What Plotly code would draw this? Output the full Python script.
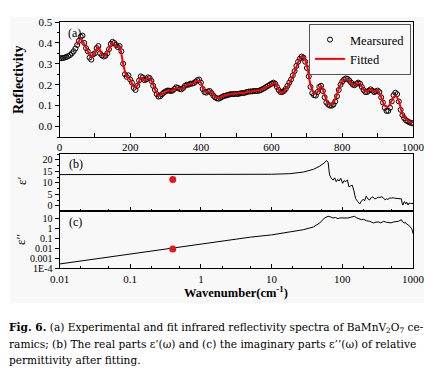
import plotly.graph_objects as go

# ---------------- data ----------------
wn_meas = list(range(0, 1001, 5))
R_meas = [
    0.327, 0.327, 0.328, 0.330, 0.333, 0.337, 0.342, 0.350, 0.360, 0.373,
    0.390, 0.410, 0.430, 0.435, 0.400, 0.375, 0.360, 0.330, 0.320, 0.345,
    0.350, 0.375, 0.385, 0.350, 0.340, 0.335, 0.338, 0.350, 0.370, 0.395,
    0.405, 0.400, 0.390, 0.380, 0.385, 0.360, 0.300, 0.250, 0.238, 0.245,
    0.225, 0.210, 0.185, 0.175, 0.195, 0.220, 0.240, 0.235, 0.222, 0.225,
    0.235, 0.232, 0.218, 0.195, 0.175, 0.155, 0.143, 0.145, 0.155, 0.162,
    0.168, 0.172, 0.172, 0.170, 0.172, 0.180, 0.188, 0.185, 0.180, 0.178,
    0.185, 0.195, 0.200, 0.200, 0.205, 0.205, 0.208, 0.215, 0.222, 0.225,
    0.210, 0.180, 0.165, 0.162, 0.168, 0.170, 0.160, 0.148, 0.140, 0.135,
    0.133, 0.137, 0.142, 0.146, 0.148, 0.150, 0.153, 0.155, 0.155, 0.156,
    0.156, 0.156, 0.158, 0.160, 0.160, 0.162, 0.165, 0.167, 0.168, 0.168,
    0.170, 0.170, 0.170, 0.172, 0.175, 0.180, 0.184, 0.190, 0.195, 0.200,
    0.205, 0.210, 0.205, 0.190, 0.175, 0.165, 0.165, 0.170, 0.180, 0.195,
    0.210, 0.225, 0.245, 0.265, 0.290, 0.310, 0.325, 0.335, 0.330, 0.310,
    0.280, 0.240, 0.190, 0.160, 0.150, 0.148, 0.165, 0.190, 0.195, 0.170,
    0.140, 0.115, 0.105, 0.100, 0.100, 0.105, 0.120, 0.145, 0.175, 0.200,
    0.215, 0.225, 0.230, 0.228, 0.220, 0.210, 0.200, 0.198, 0.205, 0.210,
    0.205, 0.190, 0.175, 0.165, 0.165, 0.172, 0.178, 0.172, 0.165, 0.168,
    0.172, 0.165, 0.140, 0.115, 0.090, 0.075, 0.075, 0.090, 0.120, 0.150,
    0.162, 0.155, 0.120, 0.080, 0.055, 0.040, 0.030, 0.025, 0.020, 0.017,
    0.015,
]

wn_fit = list(range(50, 1001, 10))
R_fit = [
    0.390, 0.420, 0.395, 0.360, 0.330, 0.355, 0.380, 0.345, 0.340, 0.370,
    0.398, 0.385, 0.378, 0.300, 0.240, 0.225, 0.190, 0.195, 0.235, 0.220,
    0.232, 0.220, 0.178, 0.146, 0.155, 0.166, 0.172, 0.172, 0.185, 0.180,
    0.185, 0.198, 0.203, 0.207, 0.220, 0.210, 0.168, 0.168, 0.162, 0.142,
    0.138, 0.145, 0.150, 0.154, 0.157, 0.158, 0.160, 0.162, 0.165, 0.168,
    0.170, 0.172, 0.176, 0.183, 0.192, 0.200, 0.208, 0.175, 0.160, 0.180,
    0.205, 0.240, 0.285, 0.325, 0.335, 0.290, 0.200, 0.160, 0.165, 0.195,
    0.150, 0.110, 0.108, 0.130, 0.180, 0.215, 0.225, 0.218, 0.200, 0.205,
    0.205, 0.178, 0.168, 0.178, 0.168, 0.172, 0.140, 0.100, 0.095, 0.125,
    0.148, 0.120, 0.060, 0.035, 0.025, 0.020,
]

wn_eps1 = [0.01, 0.1, 1, 5, 10, 18, 28, 39, 48, 55, 60, 63, 66, 70, 74, 78, 82,
           86, 90, 95, 101, 106, 112, 118, 124, 130, 138, 146, 154, 165, 177,
           186, 196, 207, 218, 230, 243, 256, 271, 287, 303, 320, 340, 360,
           376, 400, 420, 443, 470, 495, 522, 550, 580, 615, 650, 685, 700,
           722, 740, 762, 790, 815, 851, 880, 920, 948, 1000]
eps1 = [13.6, 13.6, 13.6, 13.65, 13.75, 14.0, 14.7, 15.9, 17.3, 18.6, 19.7,
        19.0, 13.5, 12.0, 11.2, 12.2, 10.5, 11.5, 10.8, 12.0, 9.8, 11.0, 10.5,
        11.3, 8.3, 8.6, 9.0, 6.5, 3.2, 1.8, 0.8, 2.0, 2.8, 2.2, 4.2, 3.0, 2.5,
        3.5, 3.9, 3.0, 3.2, 3.8, 3.6, 3.9, 3.6, 2.6, 3.0, 2.8, 3.4, 3.3, 3.5,
        3.3, 3.2, 3.2, 3.3, 3.0, 1.2, 0.3, 1.5, 1.8, 0.8, 1.5, 0.3, 1.2, 1.0,
        1.0, 1.0]

wn_eps2 = [0.01, 0.1, 1, 5, 10, 18, 28, 39, 48, 56, 63, 68, 74, 80, 87, 92, 97,
           105, 112, 120, 130, 140, 148, 160, 175, 187, 200, 218, 243, 260,
           278, 300, 327, 350, 384, 420, 451, 490, 530, 580, 622, 685, 710,
           750, 780, 810, 860, 900, 950, 980, 1000]
eps2 = [2.7e-4, 2.7e-3, 0.027, 0.13, 0.22, 0.43, 0.72, 1.35, 3.4, 10.7, 15.8,
        14.0, 10.7, 12.0, 9.1, 11.0, 10.7, 12.0, 10.0, 10.7, 12.5, 14.0, 15.8,
        11.0, 9.0, 7.2, 8.0, 5.75, 5.0, 4.0, 3.4, 4.2, 4.3, 3.5, 5.0, 4.0,
        4.0, 3.5, 4.3, 4.5, 5.0, 7.2, 4.5, 3.4, 4.0, 2.7, 2.2, 1.5, 1.0, 0.6,
        0.3]

dot_wn = [0.4]
dot_eps1 = [11.5]
dot_eps2 = [0.0085]

log_tickvals = [0.01, 0.1, 1, 10, 100, 1000]
log_ticktext = ["0.01", "0.1", "1", "10", "100", "1000"]
eps2_tickvals = [1e-4, 1e-3, 1e-2, 1e-1, 1, 10]
eps2_ticktext = ["1E-4", "0.001", "0.01", "0.1", "1", "10"]

# ---------------- figure ----------------
# the page body keeps its default 8 px margin, so the figure is made
# 16 px smaller and every position is measured from (8, 8)
OFF = 8
W, H = 435 - 2 * OFF, 380 - 2 * OFF
FONT = "Liberation Serif, Times New Roman, Times, serif"
CAPFONT = "DejaVu Serif, serif"
BG = "#f8f8f8"

def px_x(p):
    return (p - OFF) / W

def px_y(p):
    return 1 - (p - OFF) / H

xdom = [px_x(59.5), px_x(413)]

fig = go.Figure()

fig.add_trace(go.Scatter(
    x=wn_meas, y=R_meas, mode="markers", name="Mearsured",
    marker=dict(symbol="circle-open", size=5, color="black",
                line=dict(width=1, color="black")),
    xaxis="x", yaxis="y"))
fig.add_trace(go.Scatter(
    x=wn_fit, y=R_fit, mode="lines", name="Fitted",
    line=dict(color="#ff0000", width=2, shape="spline", smoothing=0.8),
    xaxis="x", yaxis="y"))

fig.add_trace(go.Scatter(
    x=wn_eps1, y=eps1, mode="lines", showlegend=False,
    line=dict(color="black", width=1), xaxis="x2", yaxis="y2"))
fig.add_trace(go.Scatter(
    x=dot_wn, y=dot_eps1, mode="markers", showlegend=False,
    marker=dict(color="#e8141c", size=7, line=dict(width=0)),
    xaxis="x2", yaxis="y2"))

fig.add_trace(go.Scatter(
    x=wn_eps2, y=eps2, mode="lines", showlegend=False,
    line=dict(color="black", width=1), xaxis="x3", yaxis="y3"))
fig.add_trace(go.Scatter(
    x=dot_wn, y=dot_eps2, mode="markers", showlegend=False,
    marker=dict(color="#e8141c", size=7, line=dict(width=0)),
    xaxis="x3", yaxis="y3"))

axfont = dict(family=FONT, size=11, color="black")
smallfont = dict(family=FONT, size=10, color="black")
common = dict(showline=True, linecolor="black", linewidth=1, mirror=True,
              showgrid=False, zeroline=False, automargin=False,
              tickcolor="black", tickwidth=1)

fig.update_layout(
    template="none",
    width=W, height=H,
    margin=dict(l=0, r=0, t=0, b=0, pad=0, autoexpand=False),
    paper_bgcolor="white", plot_bgcolor=BG,
    font=dict(family=FONT, color="black"),
    showlegend=True,
    legend=dict(x=px_x(411), y=px_y(24), xanchor="right", yanchor="top",
                bgcolor=BG, bordercolor="#555555", borderwidth=1,
                font=dict(family=FONT, size=12.5, color="black"),
                itemwidth=30, tracegroupgap=0),
    xaxis=dict(domain=xdom, range=[0, 1000], anchor="y", dtick=200,
               ticks="inside", ticklen=4, tickfont=axfont,
               minor=dict(dtick=100, ticks="inside", ticklen=4,
                          tickcolor="black"),
               **common),
    yaxis=dict(domain=[px_y(137), px_y(22)], range=[-0.05, 0.5],
               anchor="x", dtick=0.1, tick0=0, tickformat=".1f",
               ticks="outside", ticklen=4, tickfont=axfont,
               minor=dict(dtick=0.05, ticks="outside", ticklen=2,
                          tickcolor="black"),
               **common),
    xaxis2=dict(domain=xdom, type="log", range=[-2, 3], anchor="y2",
                showticklabels=False, tickvals=log_tickvals,
                ticks="inside", ticklen=4,
                minor=dict(ticks="inside", ticklen=2.5, tickcolor="black"),
                **common),
    yaxis2=dict(domain=[px_y(211), px_y(154)], range=[-2.3, 22.6],
                anchor="x2", dtick=5, tick0=0, ticks="outside", ticklen=4,
                tickfont=smallfont,
                minor=dict(dtick=2.5, ticks="outside", ticklen=2,
                           tickcolor="black"),
                **common),
    xaxis3=dict(domain=xdom, type="log", range=[-2, 3], anchor="y3",
                tickvals=log_tickvals, ticktext=log_ticktext,
                ticks="inside", ticklen=4, tickfont=axfont,
                minor=dict(ticks="inside", ticklen=2.5, tickcolor="black"),
                **common),
    yaxis3=dict(domain=[px_y(268.3), px_y(211)], type="log",
                range=[-4, 1.73], anchor="x3",
                tickvals=eps2_tickvals, ticktext=eps2_ticktext,
                ticks="outside", ticklen=4, tickfont=smallfont,
                **common),
)

# gray figure background
fig.add_shape(type="rect", xref="paper", yref="paper",
              x0=px_x(10), x1=px_x(424), y0=px_y(303), y1=px_y(17),
              fillcolor=BG, line=dict(width=0), layer="below")

ann = [
    dict(text="(a)", x=px_x(66), y=px_y(33)),
    dict(text="(b)", x=px_x(67), y=px_y(164)),
    dict(text="(c)", x=px_x(67), y=px_y(222)),
]
for a in ann:
    fig.add_annotation(text=a["text"], x=a["x"], y=a["y"], xref="paper",
                       yref="paper", xanchor="left", yanchor="middle",
                       showarrow=False,
                       font=dict(family=FONT, size=12, color="black"))

# axis titles
fig.add_annotation(text="<b>Reflectivity</b>", x=px_x(19), y=px_y(80),
                   xref="paper", yref="paper", textangle=-90,
                   showarrow=False, xanchor="center", yanchor="middle",
                   font=dict(family=FONT, size=14, color="black"))
fig.add_annotation(text="ε′", x=px_x(21), y=px_y(181),
                   xref="paper", yref="paper", textangle=-90,
                   showarrow=False, xanchor="center", yanchor="middle",
                   font=dict(family=FONT, size=13, color="black"))
fig.add_annotation(text="ε′′", x=px_x(21), y=px_y(240),
                   xref="paper", yref="paper", textangle=-90,
                   showarrow=False, xanchor="center", yanchor="middle",
                   font=dict(family=FONT, size=13, color="black"))
fig.add_annotation(text="<b>Wavenumber(cm<sup>-1</sup>)</b>",
                   x=px_x(236), y=px_y(292), xref="paper", yref="paper",
                   showarrow=False, xanchor="center", yanchor="middle",
                   font=dict(family=FONT, size=12.5, color="black"))

# caption
cap_font = dict(family=CAPFONT, size=10.6, color="black")
cap_lines = [
    "<b>Fig. 6.</b> (a) Experimental and fit infrared reflectivity spectra of BaMnV<sub>2</sub>O<sub>7</sub> ce-",
    "ramics; (b) The real parts ε’(ω) and (c) the imaginary parts ε’’(ω) of relative",
    "permittivity after fitting.",
]
cap_y = [328, 344, 360]
for t, yy in zip(cap_lines, cap_y):
    fig.add_annotation(text=t, x=px_x(7), y=px_y(yy), xref="paper",
                       yref="paper", xanchor="left", yanchor="middle",
                       showarrow=False, font=cap_font)

fig.write_html("out.html")
